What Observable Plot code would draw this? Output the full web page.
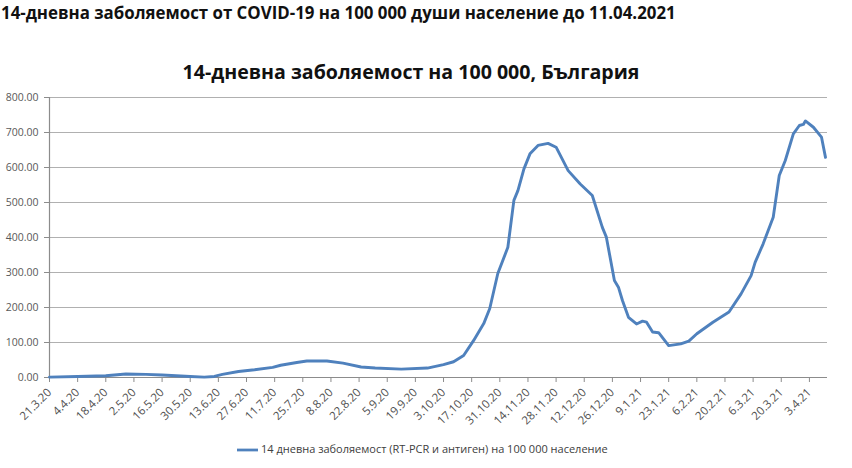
<!DOCTYPE html>
<html><head><meta charset="utf-8">
<script src="https://cdn.jsdelivr.net/npm/d3@7"></script>
<script src="https://cdn.jsdelivr.net/npm/@observablehq/plot@0.6"></script>
<style>
html,body{margin:0;padding:0;background:#fff;width:852px;height:468px;overflow:hidden;position:relative;font-family:"Open Sans",sans-serif;}
#pageTitle{position:absolute;left:1px;top:3px;font-weight:bold;font-size:15px;text-decoration:underline;white-space:nowrap;color:#111;line-height:20px;}
#chartTitle{position:absolute;left:0;width:822px;top:60px;text-align:center;font-weight:bold;font-size:18px;white-space:nowrap;color:#111;line-height:24px;}
#chartTitle span,#pageTitle span,#legend span{display:inline-block;}
#plotBox{position:absolute;left:0;top:85px;width:852px;height:345px;}
#legend{position:absolute;left:237px;top:441px;height:16px;white-space:nowrap;font-size:10px;color:#404040;line-height:16px;}
#legend svg{vertical-align:middle;}
</style>
</head><body>
<div id="pageTitle"><span id="ptxt">14-дневна заболяемост от COVID-19 на 100 000 души население до 11.04.2021</span></div>
<div id="chartTitle"><span id="ctxt">14-дневна заболяемост на 100 000, България</span></div>
<div id="plotBox"></div>
<div id="legend"><svg width="24" height="16"><line x1="0" x2="21" y1="8" y2="8" stroke="#4f81bd" stroke-width="2.75"/></svg><span id="ltxt">14 дневна заболяемост (RT-PCR и антиген) на 100 000 население</span></div>
<script>
// Data
const dates = ["2020-03-21","2020-04-04","2020-04-18","2020-04-28","2020-05-08","2020-05-16","2020-05-30","2020-06-06","2020-06-11","2020-06-15","2020-06-23","2020-07-01","2020-07-10","2020-07-14","2020-07-22","2020-07-27","2020-08-06","2020-08-14","2020-08-23","2020-08-30","2020-09-12","2020-09-25","2020-10-03","2020-10-08","2020-10-13","2020-10-18","2020-10-23","2020-10-26","2020-10-30","2020-11-04","2020-11-07","2020-11-09","2020-11-12","2020-11-15","2020-11-19","2020-11-24","2020-11-28","2020-12-04","2020-12-10","2020-12-16","2020-12-21","2020-12-23","2020-12-27","2020-12-29","2020-12-31","2021-01-03","2021-01-07","2021-01-10","2021-01-12","2021-01-15","2021-01-18","2021-01-23","2021-01-29","2021-02-02","2021-02-06","2021-02-14","2021-02-22","2021-02-28","2021-03-05","2021-03-07","2021-03-11","2021-03-16","2021-03-19","2021-03-22","2021-03-26","2021-03-29","2021-03-31","2021-04-01","2021-04-05","2021-04-09","2021-04-11"];
const values = [1,3,5,10,9,7,3,1,3,9,17,22,29,35,43,47,47,41,30,27,24,27,37,45,63,106,154,197,297,372,506,534,596,639,663,669,658,591,553,520,429,401,277,258,220,172,153,161,158,130,128,91,96,104,125,158,187,239,291,329,382,458,577,620,696,720,723,733,715,687,629];
const xTickLabels = ["21.3.20","4.4.20","18.4.20","2.5.20","16.5.20","30.5.20","13.6.20","27.6.20","11.7.20","25.7.20","8.8.20","22.8.20","5.9.20","19.9.20","3.10.20","17.10.20","31.10.20","14.11.20","28.11.20","12.12.20","26.12.20","9.1.21","23.1.21","6.2.21","20.2.21","6.3.21","20.3.21","3.4.21"];
const yTicks = [0,100,200,300,400,500,600,700,800];

const parseTick = d3.utcParse("%d.%m.%y");
const tickDates = xTickLabels.map(parseTick);
const data = dates.map((d,i)=>({date:new Date(d), value:values[i]}));
const x0 = new Date("2020-03-21"), x1 = new Date("2021-04-12");

const chart = Plot.plot({
  width: 852, height: 345,
  marginLeft: 49, marginRight: 25, marginTop: 12, marginBottom: 53,
  style: {background:"transparent", fontFamily:"'Open Sans',sans-serif"},
  x: {type:"utc", domain:[x0,x1], axis:null},
  y: {domain:[0,800], axis:null},
  marks: [
    Plot.gridY(yTicks, {stroke:"#b0b0b0", strokeOpacity:1, strokeWidth:1.2}),
    Plot.axisY(yTicks, {tickFormat:d=>d.toFixed(2), tickSize:5, tickPadding:6, stroke:"#8c8c8c", fill:"#595959", fontSize:10.5, label:null}),
    Plot.ruleX([x0], {stroke:"#8c8c8c", strokeWidth:1.2}),
    Plot.ruleY([0], {stroke:"#8c8c8c", strokeWidth:1.2}),
    Plot.axisX(tickDates, {tickFormat:(d,i)=>xTickLabels[i], tickRotate:-45, tickSize:5, tickPadding:8, stroke:"#8c8c8c", fill:"#505050", fontSize:11.5, label:null}),
    Plot.line(data, {x:"date", y:"value", stroke:"#4f81bd", strokeWidth:2.9, strokeLinejoin:"round"})
  ]
});
document.getElementById("plotBox").appendChild(chart);

function fit(id, target){
  const el = document.getElementById(id);
  const w = el.getBoundingClientRect().width;
  const fs = parseFloat(getComputedStyle(el.parentNode).fontSize);
  el.parentNode.style.fontSize = (fs*target/w).toFixed(2)+"px";
}
fit("ptxt", 675);
fit("ctxt", 457);
fit("ltxt", 347);
</script>
</body></html>
